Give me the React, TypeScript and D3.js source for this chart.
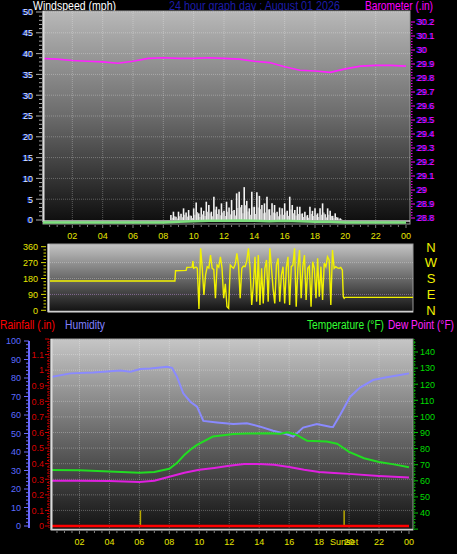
import React from 'react';
import * as d3 from 'd3';

const W = 457, H = 554;

// ---- shared hour axis ----
const hourTicks = [2, 4, 6, 8, 10, 12, 14, 16, 18, 20, 22, 24];
const hourTickLabels = ['02', '04', '06', '08', '10', '12', '14', '16', '18', '20', '22', '00'];

// ---- top panel: wind & barometer ----
const windTicks = [0, 5, 10, 15, 20, 25, 30, 35, 40, 45, 50];
const baroTicks = [28.8, 28.9, 29.0, 29.1, 29.2, 29.3, 29.4, 29.5, 29.6, 29.7, 29.8, 29.9, 30.0, 30.1, 30.2];
// hourly barometer (in), hours 0..24
const baroHourly = [29.94, 29.935, 29.925, 29.92, 29.915, 29.905, 29.92, 29.94, 29.945, 29.94, 29.94, 29.945, 29.94,
  29.935, 29.92, 29.91, 29.88, 29.855, 29.85, 29.84, 29.865, 29.885, 29.89, 29.89, 29.885];
// wind gusts (mph), every 10 minutes starting 08:30
const gustStart = 8.5;
const gusts = [1.2, 2.0, 0.8, 2.0, 1.5, 2.8, 1.8, 2.4, 1.0, 2.8, 4.2, 1.6, 3.0, 2.2, 4.4, 3.6, 2.0, 5.6, 3.2, 2.6,
  4.0, 2.2, 4.4, 3.0, 4.8, 2.4, 6.4, 6.8, 3.6, 7.9, 4.6, 2.8, 6.8, 3.2, 6.7, 5.8, 3.6, 4.0, 5.6, 2.6,
  4.0, 3.6, 2.0, 3.0, 2.8, 4.0, 2.2, 5.6, 3.6, 2.4, 3.2, 3.2, 1.6, 2.0, 1.2, 3.2, 2.2, 2.8, 1.6, 2.8,
  4.0, 1.4, 2.8, 2.2, 1.0, 1.6, 0.6, 0.4];
// average wind (mph), hourly
const avgWindHourly = [0, 0, 0, 0, 0, 0, 0, 0, 0, 0.2, 0.3, 0.4, 0.4, 0.5, 0.4, 0.3, 0.4, 0.3, 0.2, 0.2, 0, 0, 0, 0, 0];

// ---- middle panel: wind direction ----
const dirTicks = [0, 90, 180, 270, 360];
const dirLetters = ['N', 'E', 'S', 'W', 'N'];
const dirBefore: [number, number][] = [[0, 166], [8.26, 166], [8.3, 224], [9.0, 226], [9.05, 243], [9.4, 244], [9.45, 279], [9.5, 238], [9.65, 245]];
const dirWildStart = 9.74, dirWildEnd = 19.33;
const dirWild = [238, 7, 351, 238, 87, 200, 247, 240, 313, 238, 230, 68, 256, 245, 303, 238, 68, 150, 20, 11,
  256, 245, 238, 260, 322, 256, 68, 238, 250, 247, 280, 351, 238, 30, 143, 303, 49, 313, 30, 238,
  39, 238, 285, 49, 351, 238, 120, 39, 256, 294, 49, 200, 247, 39, 240, 303, 30, 247, 256, 351,
  20, 238, 341, 68, 247, 313, 58, 238, 250, 20, 275, 238, 68, 294, 77, 247, 58, 266, 247, 303,
  285, 30, 341, 238, 247, 240, 238, 243, 228];
const dirAfter: [number, number][] = [[19.39, 77], [19.45, 68], [19.5, 73], [24, 73]];

// ---- bottom panel ----
const humTicks = [0, 10, 20, 30, 40, 50, 60, 70, 80, 90, 100];
const rainTicks = [0, 0.1, 0.2, 0.3, 0.4, 0.5, 0.6, 0.7, 0.8, 0.9, 1, 1.1, 1.2];
const tempTicks = [40, 50, 60, 70, 80, 90, 100, 110, 120, 130, 140];
const humidity: [number, number][] = [[0, 80.4], [1.4, 82.5], [2.93, 83], [4.73, 84], [5.4, 83.4], [6.07, 84.9], [6.73, 85.2],
  [7.85, 86.1], [8.18, 85.5], [8.51, 80.7], [8.93, 71.7], [9.4, 67.2], [9.85, 64.5], [10.27, 56.8], [11.18, 56],
  [12.27, 55.1], [13.18, 55.5], [14.07, 53.7], [14.93, 51.5], [15.85, 49.6], [16.27, 48.3], [16.93, 53.2],
  [17.85, 55.1], [18.73, 53.7], [18.93, 53.5], [19.4, 60], [20.07, 69.9], [20.73, 74.8], [21.6, 78.9],
  [22.51, 80.4], [23.4, 81.6], [24, 82.5]];
const temperature: [number, number][] = [[0, 66.8], [2, 66.5], [4, 65.8], [6, 65], [7, 65.5], [8, 67.5], [8.5, 71], [9, 76],
  [9.5, 80], [9.85, 82.3], [10.9, 87.5], [12.3, 89], [13.2, 89.4], [14.5, 89.5], [15.4, 89.2], [15.9, 90.2],
  [16.5, 88.5], [17.2, 84.8], [18.5, 84.4], [19.2, 83], [20, 78], [21, 74], [22, 71.7], [23, 70.2], [24, 68.4]];
const dewPoint: [number, number][] = [[0, 60.1], [2, 60], [4, 59.8], [6, 59.3], [7, 60], [8, 62.5], [9, 65], [10, 66.8],
  [11, 68], [12, 69.3], [13, 70.5], [14, 70.5], [15, 69.9], [16, 68.6], [17, 66.8], [18, 65.5], [19, 64.9],
  [20, 64.3], [22, 63], [24, 62]];
const rainfall: [number, number][] = [[0, 0], [24, 0]];
const sunEvents = [6.07, 19.67];
const sunMarkHeight = 0.1; // in rainfall units

const FONT = 'Liberation Sans, Arial, sans-serif';

function range(a: number, b: number, s: number) {
  const out: number[] = [];
  for (let v = a; v <= b + 1e-9; v += s) out.push(+v.toFixed(4));
  return out;
}

export default function App() {
  // scales
  const xTop = d3.scaleLinear().domain([0, 24]).range([42, 406]);
  const windY = d3.scaleLinear().domain([0, 50]).range([220, 12]);
  const baroY = d3.scaleLinear().domain([28.8, 30.2]).range([218, 22]);

  const xMid = d3.scaleLinear().domain([0, 24]).range([50, 413]);
  const dirY = d3.scaleLinear().domain([0, 360]).range([310.3, 246.7]);

  const xBot = d3.scaleLinear().domain([0, 24]).range([49.5, 409]);
  const humY = d3.scaleLinear().domain([0, 100]).range([526, 341]);
  const rainY = d3.scaleLinear().domain([0, 1.2]).range([526, 339]);
  const tempY = d3.scaleLinear().domain([40, 140]).range([513, 352]);

  const baroLine = d3.line<number>().x((_, i) => xTop(i)).y(d => baroY(d))(baroHourly) || '';
  const avgLine = d3.line<number>().x((_, i) => xTop(i)).y(d => windY(d) + 2.5)(avgWindHourly) || '';

  const wildStep = (dirWildEnd - dirWildStart) / (dirWild.length - 1);
  const dirSeries: [number, number][] = [
    ...dirBefore,
    ...dirWild.map((d, i) => [dirWildStart + i * wildStep, d] as [number, number]),
    ...dirAfter,
  ];
  const dirLine = d3.line<[number, number]>().x(d => xMid(d[0])).y(d => dirY(d[1]))(dirSeries) || '';

  const humLine = d3.line<[number, number]>().x(d => xBot(d[0])).y(d => humY(d[1]))(humidity) || '';
  const tempLine = d3.line<[number, number]>().x(d => xBot(d[0])).y(d => tempY(d[1]))(temperature) || '';
  const dewLine = d3.line<[number, number]>().x(d => xBot(d[0])).y(d => tempY(d[1]))(dewPoint) || '';
  const rainLine = d3.line<[number, number]>().x(d => xBot(d[0])).y(d => rainY(d[1]))(rainfall) || '';

  const grid = 'rgba(255,255,255,0.28)';
  const lblSize = 9;

  return (
    <svg width={W} height={H} style={{ position: 'absolute', left: 0, top: 0, background: '#000' }} fontFamily={FONT}>
      <defs>
        <linearGradient id="gTop" x1="0" y1="0" x2="0" y2="1">
          <stop offset="0" stopColor="#b8b8b8" />
          <stop offset="0.5" stopColor="#6a6a6a" />
          <stop offset="1" stopColor="#0c0c0c" />
        </linearGradient>
        <linearGradient id="gMid" x1="0" y1="0" x2="0" y2="1">
          <stop offset="0" stopColor="#c4c4c4" />
          <stop offset="0.5" stopColor="#6a6a6a" />
          <stop offset="1" stopColor="#101010" />
        </linearGradient>
        <linearGradient id="gBot" x1="0" y1="0" x2="0" y2="1">
          <stop offset="0" stopColor="#c6c6c6" />
          <stop offset="0.5" stopColor="#6a6a6a" />
          <stop offset="1" stopColor="#121212" />
        </linearGradient>
        <clipPath id="cTop"><rect x={43} y={11} width={367} height={213} /></clipPath>
        <clipPath id="cMid"><rect x={48} y={244} width={365} height={68} /></clipPath>
        <clipPath id="cBot"><rect x={51} y={339} width={362} height={191} /></clipPath>
      </defs>
      <rect x={0} y={0} width={W} height={H} fill="#000" />

      {/* ================= TOP PANEL ================= */}
      <text x={33} y={9.5} fill="#ffffff" fontSize={12} textLength={83} lengthAdjust="spacingAndGlyphs">Windspeed (mph)</text>
      <text x={169} y={9.5} fill="#1c1ca8" fontSize={12} textLength={171} lengthAdjust="spacingAndGlyphs">24 hour graph day : August 01 2026</text>
      <text x={365} y={9.5} fill="#ff00ff" fontSize={12} textLength={68} lengthAdjust="spacingAndGlyphs">Barometer (.in)</text>

      <rect x={43} y={11} width={367} height={213} fill="url(#gTop)" stroke="#9a9a9a" strokeWidth={1} />
      <g clipPath="url(#cTop)">
        {windTicks.slice(1).map(v => (
          <line key={'wg' + v} x1={43} x2={410} y1={windY(v)} y2={windY(v)} stroke={grid} strokeDasharray="1,1" />
        ))}
        {hourTicks.slice(0, -1).map(h => (
          <line key={'hg' + h} x1={xTop(h)} x2={xTop(h)} y1={11} y2={224} stroke={grid} strokeDasharray="1,1" />
        ))}
        <path d={baroLine} fill="none" stroke="#ff22ff" strokeWidth={1.6} />
        {gusts.map((g, i) => {
          const x = xTop(gustStart + i / 6);
          return <line key={'gb' + i} x1={x} x2={x} y1={windY(0)} y2={windY(g)} stroke="#f4f4f4" strokeWidth={1.6} />;
        })}
        {gusts.map((g, i) => {
          const x = xTop(gustStart + i / 6 + 1 / 12);
          return <line key={'gs' + i} x1={x} x2={x} y1={windY(0)} y2={windY(g * 0.45)} stroke="#c8c8c8" strokeWidth={1.4} />;
        })}
      </g>
      <line x1={43.5} x2={43.5} y1={11} y2={222} stroke="#dcdcdc" strokeWidth={2} />
      <line x1={43} x2={410} y1={221} y2={221} stroke="#cfcfcf" strokeWidth={1.5} />
      <path d={avgLine} fill="none" stroke="#7ee07e" strokeWidth={2.5} clipPath="url(#cTop)" />

      {/* left wind axis */}
      {range(0, 50, 1).map(v => (
        <line key={'wt' + v} x1={v % 5 === 0 ? 36 : 39} x2={42} y1={windY(v)} y2={windY(v)} stroke="#a8a8a8" strokeWidth={1} />
      ))}
      {windTicks.map(v => (
        <text key={'wl' + v} x={33} y={windY(v) + 3.3} fill="#dce8ff" fontSize={lblSize} textAnchor="end"
          style={{ textShadow: '-1px 0 0 #3050ff' } as any}>{v}</text>
      ))}
      {/* right baro axis */}
      {range(28.8, 30.2, 0.02).map((v, i) => (
        <line key={'bt' + i} x1={411} x2={i % 5 === 0 ? 415 : 412.5} y1={baroY(v)} y2={baroY(v)} stroke="#ff00ff" strokeWidth={1} />
      ))}
      {baroTicks.map(v => (
        <text key={'bl' + v} x={417} y={baroY(v) + 3.3} fill="#ff00ff" fontSize={lblSize}
          style={{ textShadow: '-1px 0 0 #3030ff' } as any}>{String(Math.round(v * 10) / 10)}</text>
      ))}
      {/* top x axis */}
      {range(0.5, 24, 0.5).map(h => (
        <line key={'xt' + h} x1={xTop(h)} x2={xTop(h)} y1={225} y2={h % 2 === 0 ? 228 : 227} stroke="#808080" />
      ))}
      {hourTicks.map((h, i) => (
        <text key={'xl' + h} x={xTop(h)} y={238.5} fill="#e6e600" fontSize={lblSize} textAnchor="middle">{hourTickLabels[i]}</text>
      ))}

      {/* ================= MIDDLE PANEL ================= */}
      <rect x={48} y={244} width={365} height={68} fill="url(#gMid)" stroke="#9a9a9a" strokeWidth={1} />
      <g clipPath="url(#cMid)">
        {dirTicks.slice(1, -1).map(v => (
          <line key={'dg' + v} x1={48} x2={413} y1={dirY(v)} y2={dirY(v)} stroke={v === 90 ? 'rgba(220,160,255,0.45)' : grid} strokeDasharray="1,1" />
        ))}
      </g>
      <line x1={48.5} x2={48.5} y1={244} y2={312} stroke="#dcdcdc" strokeWidth={2} />
      <line x1={48} x2={413} y1={311.5} y2={311.5} stroke="#cfcfcf" strokeWidth={1.5} />
      <path d={dirLine} fill="none" stroke="#f2f200" strokeWidth={1.4} clipPath="url(#cMid)" />
      {range(0, 360, 18).map(v => (
        <line key={'dt' + v} x1={v % 90 === 0 ? 41 : 43.5} x2={46} y1={dirY(v)} y2={dirY(v)} stroke="#d8d800" strokeWidth={1} />
      ))}
      {dirTicks.map(v => (
        <text key={'dl' + v} x={38} y={dirY(v) + 3.3} fill="#e6e600" fontSize={lblSize} textAnchor="end">{v}</text>
      ))}
      {dirTicks.map((v, i) => (
        <text key={'dn' + v} x={431} y={dirY(v) + 4.8} fill="#f2f200" fontSize={13} textAnchor="middle">{dirLetters[i]}</text>
      ))}

      {/* ================= BOTTOM PANEL ================= */}
      <text x={0} y={329} fill="#ff0000" fontSize={12} textLength={55} lengthAdjust="spacingAndGlyphs">Rainfall (.in)</text>
      <text x={65} y={329} fill="#8080ff" fontSize={12} textLength={40} lengthAdjust="spacingAndGlyphs">Humidity</text>
      <text x={307} y={329} fill="#33ff33" fontSize={12} textLength={77} lengthAdjust="spacingAndGlyphs">Temperature (°F)</text>
      <text x={388} y={329} fill="#ff22ff" fontSize={12} textLength={66} lengthAdjust="spacingAndGlyphs">Dew Point (°F)</text>

      <rect x={51} y={339} width={362} height={191} fill="url(#gBot)" stroke="#9a9a9a" strokeWidth={1} />
      <g clipPath="url(#cBot)">
        {rainTicks.slice(1).map(v => (
          <line key={'rg' + v} x1={51} x2={413} y1={rainY(v)} y2={rainY(v)} stroke={grid} strokeDasharray="1,1" />
        ))}
        {hourTicks.slice(0, -1).map(h => (
          <line key={'hbg' + h} x1={xBot(h)} x2={xBot(h)} y1={339} y2={530} stroke={grid} strokeDasharray="1,1" />
        ))}
        {sunEvents.map(h => (
          <line key={'sun' + h} x1={xBot(h)} x2={xBot(h)} y1={rainY(0)} y2={rainY(sunMarkHeight)} stroke="#b8a800" strokeWidth={1.5} />
        ))}
        <path d={humLine} fill="none" stroke="#8a8aff" strokeWidth={2} />
        <path d={dewLine} fill="none" stroke="#e020e0" strokeWidth={2} />
        <path d={tempLine} fill="none" stroke="#22dd22" strokeWidth={2} />
        <path d={rainLine} fill="none" stroke="#ff0000" strokeWidth={2.5} />
      </g>
      <line x1={51.5} x2={51.5} y1={339} y2={530} stroke="#dcdcdc" strokeWidth={2} />
      <line x1={51} x2={413} y1={529.5} y2={529.5} stroke="#cfcfcf" strokeWidth={1.5} />

      {/* humidity axis */}
      <line x1={29} x2={29} y1={341} y2={528} stroke="#6a6aff" strokeWidth={2} />
      {range(0, 100, 2).map(v => (
        <line key={'ht' + v} x1={v % 10 === 0 ? 24 : 26} x2={29} y1={humY(v)} y2={humY(v)} stroke="#6a6aff" strokeWidth={1} />
      ))}
      {humTicks.map(v => (
        <text key={'hl' + v} x={21} y={humY(v) + 3.3} fill="#5c6cff" fontSize={lblSize} textAnchor="end">{v}</text>
      ))}
      {/* rainfall axis */}
      <line x1={49} x2={49} y1={339} y2={528} stroke="#d00000" strokeWidth={1} strokeDasharray="1,1" />
      {range(0, 1.2, 0.02).map((v, i) => (
        <line key={'rt' + i} x1={i % 5 === 0 ? 45 : 47} x2={49} y1={rainY(v)} y2={rainY(v)} stroke="#d00000" strokeWidth={1} />
      ))}
      {rainTicks.slice(0, -1).map(v => (
        <text key={'rl' + v} x={44} y={rainY(v) + 3.3} fill="#d80000" fontSize={lblSize} textAnchor="end">{String(Math.round(v * 10) / 10)}</text>
      ))}
      {/* temperature axis */}
      <line x1={414} x2={414} y1={339} y2={530} stroke="#00c000" strokeWidth={1} strokeDasharray="1,1" />
      {range(30, 146, 2).map(v => (
        <line key={'tt' + v} x1={414} x2={v % 10 === 0 ? 418 : 415.5} y1={tempY(v)} y2={tempY(v)} stroke="#00c000" strokeWidth={1} />
      ))}
      {tempTicks.map(v => (
        <text key={'tl' + v} x={420} y={tempY(v) + 3.3} fill="#00dd00" fontSize={lblSize}>{v}</text>
      ))}
      {/* bottom x axis */}
      {range(0.5, 24, 0.5).map(h => (
        <line key={'bxt' + h} x1={xBot(h)} x2={xBot(h)} y1={531} y2={h % 2 === 0 ? 534 : 533} stroke="#808080" />
      ))}
      {hourTicks.map((h, i) => (
        <text key={'bxl' + h} x={xBot(h)} y={544.5} fill="#e6e600" fontSize={lblSize} textAnchor="middle">{hourTickLabels[i]}</text>
      ))}
      <text x={xBot(sunEvents[1])} y={544.5} fill="#e6e600" fontSize={lblSize} textAnchor="middle">Sunset</text>
    </svg>
  );
}
